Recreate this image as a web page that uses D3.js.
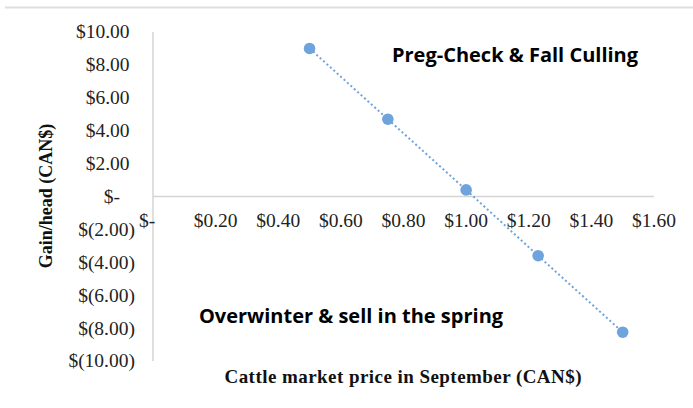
<!DOCTYPE html>
<html>
<head>
<meta charset="utf-8">
<script src="https://cdn.jsdelivr.net/npm/d3@7/dist/d3.min.js"></script>
<style>
  body { margin: 0; background: #fff; }
  svg { display: block; }
</style>
</head>
<body>
<svg id="chart" width="693" height="408"></svg>
<script>
// data
var priceX = [0.5, 0.75, 1.0, 1.23, 1.5];
var gainY = [9.0, 4.7, 0.4, -3.6, -8.25];
var xTicks = [0, 0.2, 0.4, 0.6, 0.8, 1.0, 1.2, 1.4, 1.6];
var yTicks = [10, 8, 6, 4, 2, 0, -2, -4, -6, -8, -10];

var svg = d3.select('#chart');

var x = d3.scaleLinear().domain([0, 1.6]).range([153, 654]);
var y = d3.scaleLinear().domain([-10, 10]).range([361, 32]);

// thin rule on top of the picture
svg.append('line')
  .attr('x1', 5).attr('x2', 693)
  .attr('y1', 7.5).attr('y2', 7.5)
  .attr('stroke', '#dedede')
  .attr('stroke-width', 2);

// axis lines
svg.append('line')
  .attr('x1', x(0)).attr('x2', x(0))
  .attr('y1', y(10)).attr('y2', y(-10))
  .attr('stroke', '#d4d4d4').attr('stroke-width', 1.5);

svg.append('line')
  .attr('x1', x(0)).attr('x2', x(1.6))
  .attr('y1', y(0)).attr('y2', y(0))
  .attr('stroke', '#d4d4d4').attr('stroke-width', 1.5);

function money(v) {
  if (v == 0) return '$-';
  var s = Math.abs(v).toFixed(2);
  return v < 0 ? '$(' + s + ')' : '$' + s;
}

// y tick labels (accounting format)
svg.append('g').selectAll('text')
  .data(yTicks)
  .join('text')
  .attr('x', function(d) { return d == 0 ? 120 : (d < 0 ? 135 : 129.5); })
  .attr('y', function(d) { return y(d); })
  .attr('dy', '0.33em')
  .attr('text-anchor', 'end')
  .attr('font-family', 'Liberation Serif, serif')
  .attr('font-size', '19.5px')
  .attr('fill', '#222')
  .text(money);

// x tick labels
svg.append('g').selectAll('text')
  .data(xTicks)
  .join('text')
  .attr('x', function(d) { return d == 0 ? x(d) - 6 : x(d); })
  .attr('y', 227)
  .attr('text-anchor', 'middle')
  .attr('font-family', 'Liberation Serif, serif')
  .attr('font-size', '19.5px')
  .attr('fill', '#222')
  .text(money);

// dotted trend line
var pts = priceX.map(function(d, i) { return [d, gainY[i]]; });

svg.append('path')
  .datum(pts)
  .attr('fill', 'none')
  .attr('stroke', '#6fa3dc')
  .attr('stroke-width', 2)
  .attr('stroke-dasharray', '2,2.6')
  .attr('d', d3.line().x(function(d) { return x(d[0]); }).y(function(d) { return y(d[1]); }));

svg.append('g').selectAll('circle')
  .data(pts)
  .join('circle')
  .attr('cx', function(d) { return x(d[0]); })
  .attr('cy', function(d) { return y(d[1]); })
  .attr('r', 5.8)
  .attr('fill', '#6fa3dc');

// annotations
svg.append('text')
  .attr('x', 515).attr('y', 62)
  .attr('text-anchor', 'middle')
  .attr('font-family', 'Open Sans, sans-serif')
  .attr('font-weight', 700)
  .attr('font-size', '20px')
  .attr('fill', '#000')
  .text('Preg-Check & Fall Culling');

svg.append('text')
  .attr('x', 351).attr('y', 323)
  .attr('text-anchor', 'middle')
  .attr('font-family', 'Open Sans, sans-serif')
  .attr('font-weight', 700)
  .attr('font-size', '20px')
  .attr('fill', '#000')
  .text('Overwinter & sell in the spring');

// axis titles
svg.append('text')
  .attr('x', 403).attr('y', 383)
  .attr('text-anchor', 'middle')
  .attr('font-family', 'Liberation Serif, serif')
  .attr('font-weight', 700)
  .attr('font-size', '19px')
  .attr('textLength', 357)
  .attr('fill', '#111')
  .text('Cattle market price in September (CAN$)');

svg.append('text')
  .attr('transform', 'translate(52,196) rotate(-90)')
  .attr('text-anchor', 'middle')
  .attr('font-family', 'Liberation Serif, serif')
  .attr('font-weight', 700)
  .attr('font-size', '18px')
  .attr('fill', '#111')
  .text('Gain/head (CAN$)');
</script>
</body>
</html>
